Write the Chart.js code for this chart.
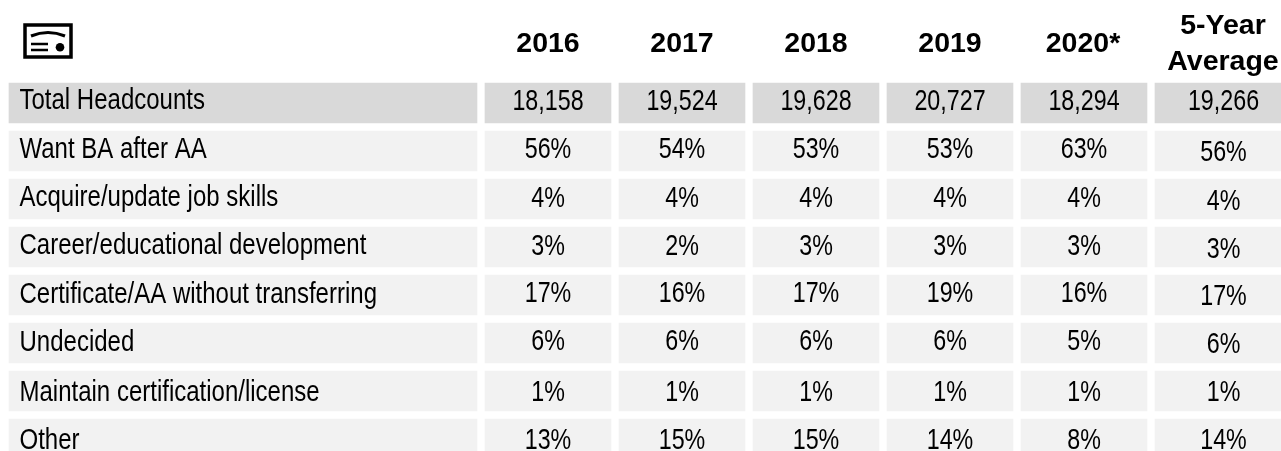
<!DOCTYPE html>
<html>
<head>
<meta charset="utf-8">
<style>
  html, body { margin: 0; padding: 0; background: #fff; overflow: hidden; width: 1281px; height: 451px; }
  /* the last row of the table runs past the bottom of the picture, so the canvas is taller than the window */
  canvas { position: absolute; left: 0; top: 0; }
</style>
</head>
<body>
<canvas id="table" width="1281" height="463"></canvas>
<script src="https://cdn.jsdelivr.net/npm/chart.js@4/dist/chart.umd.min.js"></script>
<script>
// data
const rowLabels = ['Total Headcounts', 'Want BA after AA', 'Acquire/update job skills', 'Career/educational development',
  'Certificate/AA without transferring', 'Undecided', 'Maintain certification/license', 'Other'];
const columnLabels = ['2016', '2017', '2018', '2019', '2020*', ['5-Year', 'Average']];
const values2016 = [18158, 56, 4, 3, 17, 6, 1, 13];
const values2017 = [19524, 54, 4, 2, 16, 6, 1, 15];
const values2018 = [19628, 53, 4, 3, 17, 6, 1, 15];
const values2019 = [20727, 53, 4, 3, 19, 6, 1, 14];
const values2020 = [18294, 63, 4, 3, 16, 5, 1, 8];
const valuesAverage = [19266, 56, 4, 3, 17, 6, 1, 14];
const columnValues = [values2016, values2017, values2018, values2019, values2020, valuesAverage];

// layout of the cells, in px along the x scale
const labelCell = [9, 477];
const valueCells = [[485, 611], [619, 745], [753, 879], [887, 1013], [1021, 1147], [1155, 1281]];
const headerCenters = [548, 682, 816, 950, 1083, 1223];
const headerRowColor = '#d9d9d9';
const rowColor = '#f2f2f2';
const fontFamily = '"Liberation Sans", Arial, sans-serif';
const bodyFont = '30px ' + fontFamily;
// the body text in the original is a narrow face
const labelSqueeze = 0.8;
const valueSqueeze = 0.775;
// text in the original does not sit exactly on the row centres
const labelNudge = [-2, -1, -1, -1, -0.5, -0.5, 2, 2];
const valueNudge = [-1, -1, -0.5, 0, -1.5, -1, 2, 2];
const averageNudge = [-1, 2, 3, 3, 2, 2, 2, 2];

const rowColors = rowLabels.map((_, i) => i === 0 ? headerRowColor : rowColor);

function cellText(value, row) {
    return row === 0 ? value.toLocaleString('en-US') : value + '%';
}

function narrowText(ctx, text, x, y, squeeze) {
    ctx.save();
    ctx.translate(x, y);
    ctx.scale(squeeze, 1);
    ctx.fillText(text, 0, 0);
    ctx.restore();
}

// writes the row names and the numbers in the cells
const cellTextPlugin = {
    id: 'cellText',
    afterDatasetsDraw(chart) {
        const ctx = chart.ctx;
        ctx.save();
        ctx.fillStyle = '#000';
        ctx.font = bodyFont;
        ctx.textBaseline = 'middle';
        ctx.textAlign = 'left';
        rowLabels.forEach((label, row) => {
            narrowText(ctx, label, 19.5, chart.scales.y.getPixelForValue(row) + labelNudge[row], labelSqueeze);
        });
        ctx.textAlign = 'center';
        columnValues.forEach((values, col) => {
            const meta = chart.getDatasetMeta(col + 1);
            const isAverage = col === columnValues.length - 1;
            values.forEach((value, row) => {
                const bar = meta.data[row];
                // the average column sits a little off its cell in the original
                const dx = isAverage ? 5.5 : 0;
                const dy = isAverage ? averageNudge[row] : valueNudge[row];
                narrowText(ctx, cellText(value, row), (bar.x + bar.base) / 2 + dx, bar.y + dy, valueSqueeze);
            });
        });
        ctx.restore();
    }
};

// the small certificate icon top left
const iconPlugin = {
    id: 'icon',
    afterDraw(chart) {
        const ctx = chart.ctx;
        ctx.save();
        ctx.strokeStyle = '#000';
        ctx.fillStyle = '#000';
        ctx.lineWidth = 3.5;
        ctx.strokeRect(25, 25, 46, 32);
        ctx.lineWidth = 3;
        ctx.beginPath();
        ctx.moveTo(31, 36);
        ctx.quadraticCurveTo(48, 29, 65, 36);
        ctx.stroke();
        ctx.lineWidth = 2.5;
        ctx.beginPath();
        ctx.moveTo(31, 44); ctx.lineTo(48, 44);
        ctx.moveTo(31, 50); ctx.lineTo(48, 50);
        ctx.stroke();
        ctx.beginPath();
        ctx.arc(60, 47.3, 4.3, 0, Math.PI * 2);
        ctx.fill();
        ctx.restore();
    }
};

const datasets = [{
    data: rowLabels.map(() => labelCell),
    backgroundColor: rowColors,
    grouped: false,
    barThickness: 40
}];
valueCells.forEach(cell => {
    datasets.push({
        data: rowLabels.map(() => cell),
        backgroundColor: rowColors,
        grouped: false,
        barThickness: 40
    });
});

new Chart(document.getElementById('table'), {
    type: 'bar',
    data: { labels: rowLabels, datasets: datasets },
    plugins: [cellTextPlugin, iconPlugin],
    options: {
        indexAxis: 'y',
        responsive: false,
        animation: false,
        layout: { padding: 0 },
        plugins: { legend: { display: false }, tooltip: { enabled: false } },
        scales: {
            x: {
                type: 'linear',
                position: 'top',
                min: 0,
                max: 1281,
                grid: { display: false },
                border: { display: false },
                afterBuildTicks(scale) {
                    scale.ticks = headerCenters.map(value => ({ value: value }));
                },
                afterFit(scale) {
                    scale.height = 79;
                    // header labels stay inside the canvas, no need for side margins
                    scale.paddingLeft = 0;
                    scale.paddingRight = 0;
                },
                ticks: {
                    autoSkip: false,
                    maxRotation: 0,
                    minRotation: 0,
                    padding: 9,
                    crossAlign: 'center',
                    color: '#000',
                    font: { family: fontFamily, size: 28.5, weight: 'bold', lineHeight: 1.263 },
                    callback(value, index) { return columnLabels[index]; }
                }
            },
            y: {
                type: 'category',
                grid: { display: false },
                border: { display: false },
                afterFit(scale) { scale.width = 0; },
                ticks: { display: false }
            }
        }
    }
});
</script>
</body>
</html>
